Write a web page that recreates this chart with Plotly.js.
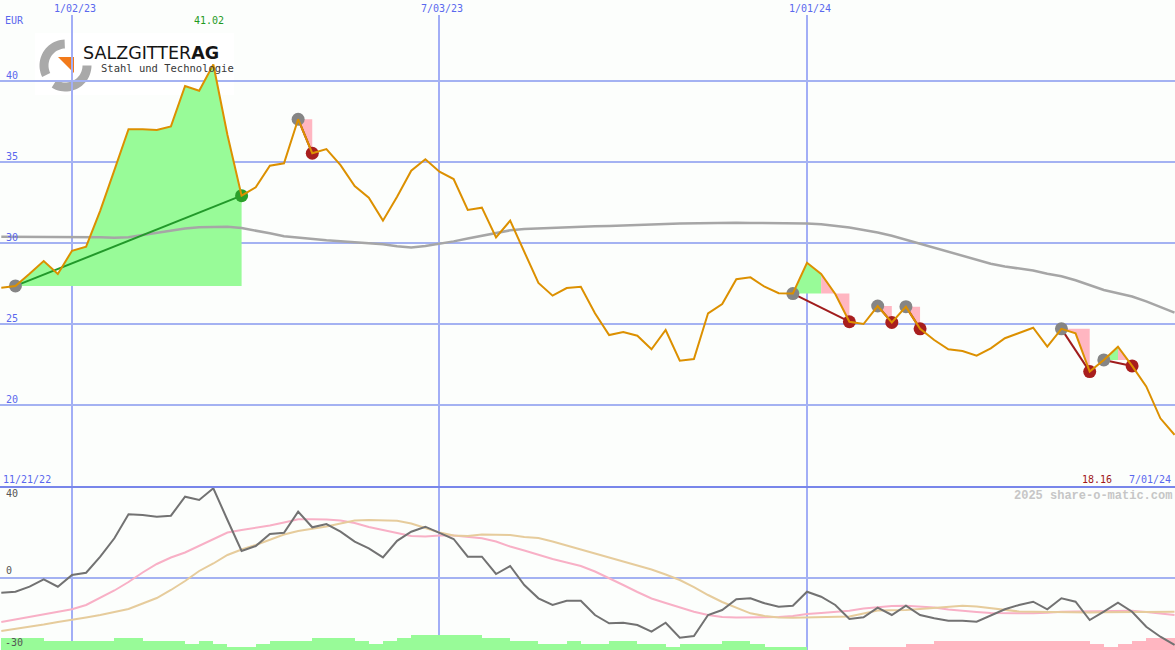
<!DOCTYPE html>
<html>
<head>
<meta charset="utf-8">
<script src="https://cdn.plot.ly/plotly-3.0.1.min.js"></script>
<style>
html,body{margin:0;padding:0;background:#fcfefc;}
#chart{width:1175px;height:650px;}
</style>
</head>
<body>
<div id="chart"></div>
<script>
// ---------------- DATA ----------------
const firstWeek = '2022-11-28';
const tickDates = ['2023-01-02', '2023-07-03', '2024-01-01'];
const tickLabels = ['1/02/23', '7/03/23', '1/01/24'];
const periodStartLabel = '11/21/22';
const periodEndLabel = '7/01/24';
const currency = 'EUR';
const priceTicks = [20, 25, 30, 35, 40];
const oscTicks = [40, 0, -30];

// weekly close (EUR)
const close = [
  27.24, 27.35, 28.1, 28.89, 28.09, 29.52, 29.77, 32.0, 34.5, 37.02,
  37.02, 36.98, 37.2, 39.69, 39.4, 41.02, 36.67, 32.92, 33.44, 34.77,
  34.92, 37.64, 35.54, 35.8, 34.81, 33.52, 32.8, 31.38, 32.86, 34.46,
  35.17, 34.4, 33.95, 32.04, 32.18, 30.35, 31.38, 29.46, 27.53, 26.75,
  27.22, 27.3, 25.66, 24.32, 24.51, 24.28, 23.44, 24.63, 22.73, 22.84,
  25.66, 26.23, 27.76, 27.88, 27.3, 26.9, 26.88, 28.78, 28.09, 26.85,
  25.14, 25.0, 26.11, 25.1, 26.07, 24.7, 24.01, 23.44, 23.33, 23.04,
  23.5, 24.12, 24.46, 24.77, 23.6, 24.7, 24.42, 22.06, 22.78, 23.6,
  22.41, 21.15, 19.18, 18.16
];
// long moving average
const movingAvg = [
  30.39, 30.39, 30.39, 30.39, 30.39, 30.39, 30.36, 30.35, 30.33, 30.35,
  30.49, 30.62, 30.78, 30.9, 30.97, 31.01, 31.01, 30.92, 30.78, 30.6,
  30.42, 30.33, 30.24, 30.17, 30.11, 30.05, 29.98, 29.92, 29.8, 29.72,
  29.82, 29.94, 30.1, 30.28, 30.45, 30.6, 30.78, 30.86, 30.9, 30.93,
  30.97, 31.0, 31.03, 31.05, 31.07, 31.1, 31.15, 31.17, 31.2, 31.22,
  31.24, 31.25, 31.25, 31.24, 31.24, 31.23, 31.22, 31.21, 31.15, 31.05,
  30.95, 30.8, 30.65, 30.45, 30.2, 29.95, 29.7, 29.48, 29.2, 28.95,
  28.72, 28.55, 28.42, 28.3, 28.1, 27.95, 27.7, 27.4, 27.1, 26.9,
  26.7, 26.4, 26.05, 25.7
];
// momentum oscillator (%)
const momentum = [
  -7.64, -7.12, -4.52, -0.68, -4.52, 1.56, 2.75, 11.06, 20.62, 33.09,
  32.73, 31.84, 32.36, 42.23, 40.52, 46.6, 30.13, 14.03, 16.62, 22.86,
  23.53, 34.44, 26.34, 28.05, 24.05, 18.86, 15.4, 10.7, 19.32, 24.05,
  26.65, 23.53, 20.26, 11.06, 11.06, 2.08, 6.23, -3.64, -10.55, -14.03,
  -11.79, -11.79, -19.22, -23.53, -23.22, -24.42, -27.9, -23.22, -31.01, -30.13,
  -19.22, -16.62, -11.06, -10.55, -13.14, -14.91, -14.39, -7.12, -9.71, -14.03,
  -21.3, -20.42, -15.43, -19.22, -14.39, -19.22, -20.94, -22.18, -22.18, -22.7,
  -19.58, -16.26, -14.03, -12.31, -16.26, -10.55, -12.31, -21.82, -17.5, -12.83,
  -17.5, -25.3, -30.5, -34.8
];
const momentumFast = [
  -22.86, -21.56, -20.0, -18.7, -17.4, -16.26, -14.03, -10.39, -6.49, -2.08,
  2.86, 7.27, 10.65, 13.25, 16.62, 20.26, 23.64, 24.94, 25.97, 27.27,
  28.83, 30.49, 30.49, 30.39, 29.87, 28.57, 26.49, 24.94, 23.38, 21.82,
  21.56, 22.08, 22.08, 21.3, 20.62, 18.96, 16.36, 14.29, 11.95, 9.87,
  8.05, 6.23, 3.38, 0, -3.64, -7.27, -10.65, -12.99, -15.32, -17.5,
  -19.22, -20.26, -20.52, -20.52, -20.52, -20.26, -19.74, -18.7, -18.18, -17.66,
  -16.99, -15.84, -15.06, -14.55, -14.39, -14.7, -15.32, -16.36, -17.14, -17.66,
  -18.18, -18.34, -18.34, -18.34, -18.03, -17.5, -17.4, -17.3, -17.14, -17.14,
  -16.99, -17.66, -18.44, -19.22
];
const momentumSlow = [
  -27.53, -26.49, -25.45, -24.16, -22.86, -21.82, -20.52, -19.22, -17.66, -16.1,
  -13.25, -10.39, -6.23, -1.56, 3.64, 7.53, 11.95, 14.81, 17.14, 20.0,
  22.6, 24.42, 25.45, 26.75, 28.31, 29.87, 30.13, 30.13, 29.77, 28.31,
  25.97, 23.64, 22.08, 21.82, 22.6, 22.6, 22.34, 21.3, 20.78, 18.96,
  16.88, 14.55, 12.73, 10.39, 8.31, 6.49, 4.42, 1.82, -1.04, -4.68,
  -8.83, -12.47, -15.58, -18.34, -19.74, -20.52, -20.62, -20.52, -20.36, -20.26,
  -20.0, -18.44, -16.88, -16.73, -16.62, -16.1, -15.58, -14.81, -14.39, -14.81,
  -15.58, -16.62, -17.4, -17.56, -17.66, -17.82, -17.97, -17.92, -17.77, -17.66,
  -17.5, -17.5, -17.5, -17.5
];
// trend histogram (signed level)
const trendHist = [
  4, 4, 4, 3, 3, 3, 3, 3, 4, 4,
  3, 3, 3, 2, 3, 2, 1, 1, 2, 3,
  3, 3, 4, 4, 4, 3, 2, 3, 4, 5,
  5, 5, 5, 5, 4, 4, 3, 3, 2, 2,
  3, 2, 2, 3, 3, 2, 2, 1, 2, 2,
  2, 3, 3, 2, 1, 1, 1, 0, 0, 0,
  -1, -1, -1, -1, -2, -2, -3, -3, -3, -3,
  -3, -3, -3, -3, -3, -3, -3, -2, -1, -2,
  -3, -4, -4, -4
];
// trade signals (week indexes)
const signalStart = [1, 21, 56, 62, 64, 75, 78];
const signalEnd   = [17, 22, 60, 63, 65, 77, 80];

// ---------------- BUILD ----------------
const W = 1175, H = 650;
const px = v => v / W;
const py = v => 1 - v / H;
const DAY = 86400000;
const t0 = Date.parse(firstWeek + 'T00:00:00Z');
const dates = close.map((_, i) => new Date(t0 + i * 7 * DAY).toISOString().slice(0, 10));

const GAIN_FILL = '#98fb98', LOSS_FILL = '#ffb6c1';
const traces = [];

function addFill(a, b, base, color) {
  traces.push({x: [dates[a], dates[b]], y: [base, base], type: 'scatter', mode: 'lines',
    line: {width: 0, color: color}, hoverinfo: 'skip', showlegend: false, xaxis: 'x', yaxis: 'y'});
  traces.push({x: dates.slice(a, b + 1), y: close.slice(a, b + 1), type: 'scatter', mode: 'lines',
    line: {width: 0, color: color}, fill: 'tonexty', fillcolor: color, hoverinfo: 'skip',
    showlegend: false, xaxis: 'x', yaxis: 'y'});
}

signalStart.forEach((s, k) => {
  const e = signalEnd[k];
  const base = close[s];
  const colorOf = j => close[j] >= base ? GAIN_FILL : LOSS_FILL;
  let runStart = s;
  for (let j = s + 1; j <= e; j++) {
    const c = colorOf(j);
    if (j === e || colorOf(j + 1) !== c) { addFill(runStart, j, base, c); runStart = j; }
  }
});

// moving average
traces.push({x: dates, y: movingAvg, type: 'scatter', mode: 'lines',
  line: {color: '#a6a6a6', width: 2.5}, hoverinfo: 'skip', showlegend: false, xaxis: 'x', yaxis: 'y'});

// signal connector lines
signalStart.forEach((s, k) => {
  const e = signalEnd[k];
  const gain = close[e] > close[s];
  traces.push({x: [dates[s], dates[e]], y: [close[s], close[e]], type: 'scatter', mode: 'lines',
    line: {color: gain ? '#22992a' : '#a01c1c', width: 2}, hoverinfo: 'skip', showlegend: false,
    xaxis: 'x', yaxis: 'y'});
});
// signal markers
traces.push({x: signalStart.map(i => dates[i]), y: signalStart.map(i => close[i]), type: 'scatter',
  mode: 'markers', marker: {size: 13, color: '#858585'}, hoverinfo: 'skip', showlegend: false,
  xaxis: 'x', yaxis: 'y'});
traces.push({x: signalEnd.map(i => dates[i]), y: signalEnd.map(i => close[i]), type: 'scatter',
  mode: 'markers', marker: {size: 13, color: signalEnd.map((e, k) => close[e] > close[signalStart[k]] ? '#2aa02a' : '#a81e1e')},
  hoverinfo: 'skip', showlegend: false, xaxis: 'x', yaxis: 'y'});

// price
traces.push({x: dates, y: close, type: 'scatter', mode: 'lines',
  line: {color: '#dc9000', width: 2}, hoverinfo: 'skip', showlegend: false, xaxis: 'x', yaxis: 'y'});

// lower panel: histogram
traces.push({x: dates, y: trendHist.map(Math.abs), type: 'bar', base: 0,
  width: 7 * DAY, offset: 0,
  marker: {color: trendHist.map(v => v >= 0 ? GAIN_FILL : LOSS_FILL), line: {width: 0}},
  hoverinfo: 'skip', showlegend: false, xaxis: 'x', yaxis: 'y2'});
// oscillator lines
traces.push({x: dates, y: momentumFast, type: 'scatter', mode: 'lines',
  line: {color: '#f8b0c6', width: 2}, hoverinfo: 'skip', showlegend: false, xaxis: 'x', yaxis: 'y3'});
traces.push({x: dates, y: momentumSlow, type: 'scatter', mode: 'lines',
  line: {color: '#e6cc9c', width: 2}, hoverinfo: 'skip', showlegend: false, xaxis: 'x', yaxis: 'y3'});
traces.push({x: dates, y: momentum, type: 'scatter', mode: 'lines',
  line: {color: '#727272', width: 2}, hoverinfo: 'skip', showlegend: false, xaxis: 'x', yaxis: 'y3'});

// ---------------- LAYOUT ----------------
const BLUE_TXT = '#5a68ee';
const LBL_FONT = {family: 'DejaVu Sans Mono', size: 10, color: BLUE_TXT};
const annotations = [];
function ann(o) { annotations.push(Object.assign({showarrow: false, font: LBL_FONT, borderpad: 0}, o)); }

ann({text: currency, xref: 'paper', yref: 'paper', x: px(4), y: py(21), xanchor: 'left', yanchor: 'middle'});
tickDates.forEach((d, k) => ann({text: tickLabels[k], xref: 'x', yref: 'paper', x: d, y: py(8),
  xanchor: 'center', yanchor: 'middle', xshift: 3}));
priceTicks.forEach(v => ann({text: String(v), xref: 'paper', yref: 'y', x: px(5), y: v,
  xanchor: 'left', yanchor: 'bottom', yshift: -1}));
oscTicks.forEach(v => ann({text: String(v), xref: 'paper', yref: 'y3', x: px(v < 0 ? 4 : 5), y: v,
  xanchor: 'left', yanchor: v < 0 ? 'top' : 'bottom', yshift: v < 0 ? 0 : 1,
  font: {family: 'DejaVu Sans Mono', size: 10, color: '#555555'}}));

// max / last value
const maxIdx = close.indexOf(Math.max(...close));
ann({text: close[maxIdx].toFixed(2), xref: 'x', yref: 'paper', x: dates[maxIdx], y: py(21),
  xanchor: 'center', yanchor: 'middle', xshift: -4, font: {family: 'DejaVu Sans Mono', size: 10, color: '#1f9a1f'}});
ann({text: close[close.length - 1].toFixed(2), xref: 'paper', yref: 'paper', x: px(1097), y: py(479),
  xanchor: 'center', yanchor: 'middle', font: {family: 'DejaVu Sans Mono', size: 10, color: '#a01818'}});
ann({text: periodStartLabel, xref: 'paper', yref: 'paper', x: px(2), y: py(479), xanchor: 'left', yanchor: 'middle'});
ann({text: periodEndLabel, xref: 'paper', yref: 'paper', x: px(1172), y: py(479), xanchor: 'right', yanchor: 'middle'});
ann({text: '2025 share-o-matic.com', xref: 'paper', yref: 'paper', x: px(1173), y: py(496),
  xanchor: 'right', yanchor: 'middle', font: {family: 'Liberation Mono', size: 12, color: '#c6c6c6', weight: 'bold'}});

// logo text
ann({text: 'SALZGITTER<b>AG</b>', xref: 'paper', yref: 'paper', x: px(82), y: py(53),
  xanchor: 'left', yanchor: 'middle', font: {family: 'DejaVu Sans', size: 17.5, color: '#151515'}});
ann({text: 'Stahl und Technologie', xref: 'paper', yref: 'paper', x: px(100), y: py(68),
  xanchor: 'left', yanchor: 'middle', font: {family: 'DejaVu Sans Mono', size: 10.5, color: '#383838'}});

// logo shapes
function arcPath(cx, cy, r1, r2, a0, a1) {
  const pts = [];
  const n = 24;
  for (let i = 0; i <= n; i++) { const a = (a0 + (a1 - a0) * i / n) * Math.PI / 180;
    pts.push([cx + r2 * Math.cos(a), cy - r2 * Math.sin(a)]); }
  for (let i = n; i >= 0; i--) { const a = (a0 + (a1 - a0) * i / n) * Math.PI / 180;
    pts.push([cx + r1 * Math.cos(a), cy - r1 * Math.sin(a)]); }
  return 'M' + pts.map(p => px(p[0]).toFixed(5) + ',' + py(p[1]).toFixed(5)).join(' L') + ' Z';
}
function polyPath(pts) {
  return 'M' + pts.map(p => px(p[0]).toFixed(5) + ',' + py(p[1]).toFixed(5)).join(' L') + ' Z';
}
const shapes = [
  {type: 'rect', xref: 'paper', yref: 'paper', x0: px(35), x1: px(234), y0: py(95), y1: py(33),
    fillcolor: '#ffffff', line: {width: 0}, layer: 'between'},
  {type: 'path', xref: 'paper', yref: 'paper', path: arcPath(65.5, 65.5, 17, 26, 92, 206),
    fillcolor: '#a9a9a9', line: {width: 0}, layer: 'between'},
  {type: 'path', xref: 'paper', yref: 'paper', path: arcPath(65.5, 65.5, 17, 26, 238, 360),
    fillcolor: '#a9a9a9', line: {width: 0}, layer: 'between'},
  {type: 'path', xref: 'paper', yref: 'paper', path: polyPath([[58, 57], [74, 57], [74, 73]]),
    fillcolor: '#f27a1a', line: {width: 0}, layer: 'between'},
  {type: 'line', xref: 'paper', yref: 'paper', x0: 0, x1: 1, y0: py(487), y1: py(487),
    line: {color: '#7886ea', width: 2}, layer: 'above'}
];

const SPLIT = py(487);
const layout = {
  width: W, height: H,
  margin: {l: 0, r: 0, t: 0, b: 0, pad: 0},
  paper_bgcolor: '#fcfefc', plot_bgcolor: '#fcfefc',
  showlegend: false,
  bargap: 0,
  xaxis: {type: 'date', range: ['2022-11-27 08:30', '2024-07-01 05:50'], domain: [0, 1], anchor: 'y',
    tickvals: tickDates, showticklabels: false, ticks: '', showgrid: true,
    gridcolor: '#a2aef6', gridwidth: 2, zeroline: false, showline: false, fixedrange: true},
  yaxis: {domain: [SPLIT, py(15)], range: [14.938, 44.074], tickvals: priceTicks, showticklabels: false,
    ticks: '', showgrid: true, gridcolor: '#a4b2f2', gridwidth: 2, zeroline: false, showline: false},
  yaxis2: {domain: [0, SPLIT], range: [0, 54.33], showgrid: false, showticklabels: false, ticks: '',
    zeroline: false, showline: false},
  yaxis3: {overlaying: 'y2', range: [-37.4, 47.27], tickvals: [0], showticklabels: false, ticks: '',
    showgrid: true, gridcolor: '#a4b2f2', gridwidth: 2, zeroline: false, showline: false},
  annotations: annotations,
  shapes: shapes
};

Plotly.newPlot('chart', traces, layout, {staticPlot: true, displayModeBar: false});
</script>
</body>
</html>
